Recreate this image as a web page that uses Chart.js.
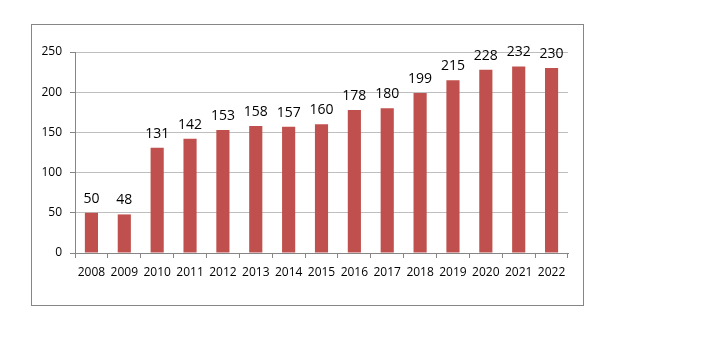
<!DOCTYPE html>
<html>
<head>
<meta charset="utf-8">
<script src="https://cdn.jsdelivr.net/npm/chart.js@4/dist/chart.umd.min.js"></script>
<style>
  html, body { margin: 0; padding: 0; background: #fff; }
  #wrap { width: 701px; height: 340px; }
</style>
</head>
<body>
<div id="wrap"><canvas id="chart" width="701" height="340"></canvas></div>
<script>
const years = ['2008','2009','2010','2011','2012','2013','2014','2015','2016','2017','2018','2019','2020','2021','2022'];
const counts = [50, 48, 131, 142, 153, 158, 157, 160, 178, 180, 199, 215, 228, 232, 230];
const yTicks = [0, 50, 100, 150, 200, 250];

// outer frame around the whole chart
const framePlugin = {
  id: 'frame',
  beforeDraw(chart) {
    const c = chart.ctx;
    c.save();
    c.strokeStyle = '#868686';
    c.lineWidth = 1;
    c.strokeRect(31.5, 24.5, 552, 281);
    c.restore();
  }
};

// value printed above each bar
const valuePlugin = {
  id: 'values',
  afterDatasetsDraw(chart) {
    const c = chart.ctx;
    const meta = chart.getDatasetMeta(0);
    c.save();
    c.font = '14px "Open Sans"';
    c.fillStyle = '#000';
    c.textAlign = 'center';
    c.textBaseline = 'alphabetic';
    meta.data.forEach((bar, i) => {
      c.fillText(String(counts[i]), bar.x, bar.y - 10);
    });
    c.restore();
  }
};

function createChart(id) {
  const ctx = document.getElementById(id).getContext('2d');
  return new Chart(ctx, {
    type: 'bar',
    data: {
      labels: years,
      datasets: [{
        data: counts,
        backgroundColor: '#C0504D',
        borderWidth: 0,
        categoryPercentage: 1,
        barPercentage: 0.4
      }]
    },
    options: {
      responsive: false,
      animation: false,
      layout: { padding: { left: 31, top: 52, right: 133, bottom: 57 } },
      plugins: { legend: { display: false }, tooltip: { enabled: false } },
      scales: {
        x: {
          afterFit(scale) { scale.height = 30; },
          grid: { drawOnChartArea: false, tickLength: 5, color: '#868686', offset: true },
          border: { color: '#868686' },
          ticks: { color: '#000', font: { family: 'Open Sans', size: 12 }, padding: 7, maxRotation: 0 }
        },
        y: {
          min: 0,
          max: 250,
          afterFit(scale) { scale.width = 44; },
          afterBuildTicks(scale) { scale.ticks = yTicks.map(v => ({ value: v })); },
          grid: { color: '#BEBEBE', tickLength: 5, tickColor: '#868686' },
          border: { color: '#868686' },
          ticks: { color: '#000', font: { family: 'Open Sans', size: 12 }, padding: 8 }
        }
      }
    },
    plugins: [framePlugin, valuePlugin]
  });
}

createChart('chart');
</script>
</body>
</html>
